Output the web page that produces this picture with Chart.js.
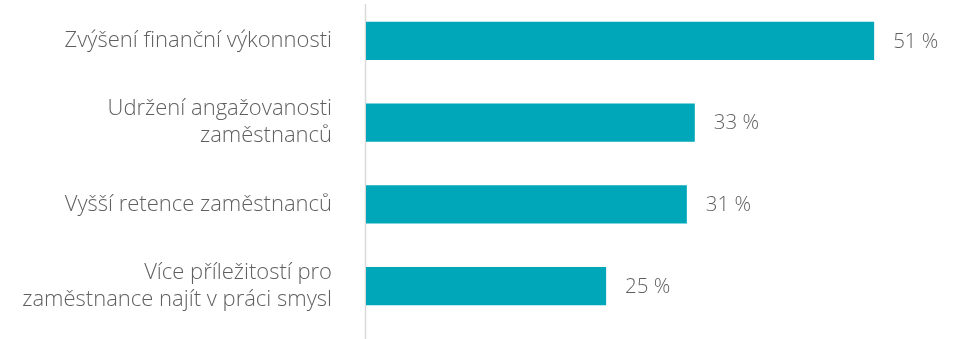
<!DOCTYPE html>
<html>
<head>
<meta charset="utf-8">
<script src="https://cdn.jsdelivr.net/npm/chart.js@4/dist/chart.umd.min.js"></script>
<style>
  html, body { margin: 0; padding: 0; background: #fff; }
  #wrap { width: 959px; height: 339px; position: relative; }
</style>
</head>
<body>
<div id="wrap"><canvas id="chart"></canvas></div>
<script>
// categories (multi-line labels) and values
const categories = [
    ['Zvýšení finanční výkonnosti'],
    ['Udržení angažovanosti', 'zaměstnanců'],
    ['Vyšší retence zaměstnanců'],
    ['Více příležitostí pro', 'zaměstnance najít v práci smysl']
];
const values = [51, 33, 32.2, 24.1];
const valueLabels = ['51 %', '33 %', '31 %', '25 %'];

const FONT = "'Open Sans', 'Noto Sans', sans-serif";
const TEXT = '#5f5f5f';

// value text to the right of each bar
const valueLabelPlugin = {
    id: 'valueLabels',
    afterDatasetsDraw(chart) {
        const ctx = chart.ctx;
        const meta = chart.getDatasetMeta(0);
        ctx.save();
        ctx.font = '300 20.5px ' + FONT;
        ctx.fillStyle = TEXT;
        ctx.textBaseline = 'middle';
        meta.data.forEach((bar, i) => {
            ctx.fillText(valueLabels[i], bar.x + 19, bar.y + 1);
        });
        ctx.restore();
    }
};

// thin grey vertical axis line running the full height
const axisLinePlugin = {
    id: 'axisLine',
    beforeDatasetsDraw(chart) {
        const ctx = chart.ctx;
        const x = chart.scales.x.getPixelForValue(0);
        ctx.save();
        ctx.strokeStyle = '#d9d9d9';
        ctx.lineWidth = 1.5;
        ctx.beginPath();
        ctx.moveTo(x - 0.5, 4);
        ctx.lineTo(x - 0.5, 339);
        ctx.stroke();
        ctx.restore();
    }
};

new Chart(document.getElementById('chart'), {
    type: 'bar',
    data: {
        labels: categories,
        datasets: [{
            data: values,
            backgroundColor: '#00a7b9',
            borderWidth: 0,
            barPercentage: 0.465,
            categoryPercentage: 1.0
        }]
    },
    options: {
        indexAxis: 'y',
        responsive: true,
        maintainAspectRatio: false,
        animation: false,
        layout: { padding: { top: 0, bottom: 12, right: 45, left: 0 } },
        plugins: {
            legend: { display: false },
            tooltip: { enabled: false }
        },
        scales: {
            x: {
                display: false,
                min: 0,
                max: 55
            },
            y: {
                grid: { display: false },
                border: { display: false },
                ticks: {
                    color: TEXT,
                    padding: 26,
                    font: { family: FONT, size: 22, weight: 300, lineHeight: 1.23 }
                },
                afterFit(scale) {
                    scale.width = 366;
                    scale.paddingTop = 0;
                    scale.paddingBottom = 0;
                }
            }
        }
    },
    plugins: [valueLabelPlugin, axisLinePlugin]
});
</script>
</body>
</html>
